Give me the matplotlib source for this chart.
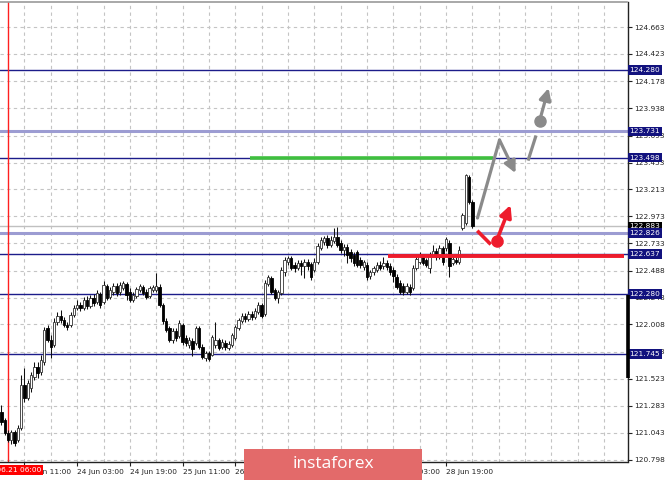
import matplotlib
matplotlib.use("Agg")
import matplotlib.pyplot as plt
import matplotlib.transforms as mtransforms
from matplotlib.patches import Rectangle

# ---------------- data ----------------
opens = [121.225, 121.154, 121.038, 120.975, 121.047, 120.975, 121.082, 121.467, 121.350, 121.440,
         121.538, 121.627, 121.583, 121.672, 121.975, 121.868, 121.824, 122.029, 122.083, 122.047,
         122.002, 122.002, 122.092, 122.154, 122.181, 122.154, 122.225, 122.172, 122.243, 122.208,
         122.279, 122.208, 122.350, 122.252, 122.297, 122.350, 122.297, 122.333, 122.368, 122.297,
         122.225, 122.261, 122.315, 122.342, 122.297, 122.261, 122.315, 122.315, 122.342, 122.181,
         122.038, 121.975, 121.868, 121.949, 121.904, 122.002, 121.886, 121.824, 121.859, 121.842,
         121.975, 121.806, 121.708, 121.752, 121.734, 121.824, 121.868, 121.806, 121.842, 121.797,
         121.824, 121.886, 121.975, 122.038, 122.083, 122.056, 122.100, 122.074, 122.118, 122.181,
         122.100, 122.368, 122.422, 122.315, 122.243, 122.288, 122.475, 122.565, 122.600, 122.538,
         122.511, 122.556, 122.529, 122.565, 122.547, 122.493, 122.565, 122.690, 122.743, 122.779,
         122.716, 122.752, 122.788, 122.734, 122.672, 122.699, 122.654, 122.627, 122.654, 122.583,
         122.520, 122.538, 122.440, 122.475, 122.493, 122.538, 122.529, 122.556, 122.529, 122.493,
         122.431, 122.377, 122.350, 122.297, 122.342, 122.333, 122.511, 122.565, 122.609, 122.583,
         122.511, 122.627, 122.663, 122.609, 122.690, 122.690, 122.734, 122.556, 122.583, 122.565,
         122.868, 122.913, 123.324, 123.100]
highs = [121.288, 121.172, 121.065, 121.065, 121.065, 121.109, 121.556, 121.618, 121.511, 121.583,
         121.672, 121.672, 121.734, 121.984, 122.002, 121.913, 122.065, 122.118, 122.136, 122.074,
         122.029, 122.118, 122.181, 122.225, 122.208, 122.252, 122.261, 122.270, 122.279, 122.315,
         122.297, 122.395, 122.368, 122.342, 122.377, 122.377, 122.386, 122.395, 122.386, 122.333,
         122.297, 122.342, 122.368, 122.359, 122.324, 122.350, 122.359, 122.466, 122.368, 122.199,
         122.065, 121.993, 121.975, 121.975, 122.047, 122.020, 121.913, 121.895, 121.886, 121.993,
         121.993, 121.833, 121.770, 121.770, 121.913, 122.029, 121.886, 121.877, 121.868, 121.859,
         121.931, 122.002, 122.065, 122.109, 122.109, 122.127, 122.127, 122.154, 122.208, 122.199,
         122.404, 122.449, 122.440, 122.333, 122.315, 122.520, 122.609, 122.618, 122.618, 122.565,
         122.583, 122.583, 122.591, 122.591, 122.565, 122.600, 122.734, 122.788, 122.797, 122.806,
         122.797, 122.868, 122.877, 122.761, 122.725, 122.725, 122.681, 122.654, 122.672, 122.609,
         122.583, 122.565, 122.493, 122.529, 122.565, 122.574, 122.609, 122.583, 122.556, 122.520,
         122.458, 122.404, 122.377, 122.377, 122.368, 122.538, 122.618, 122.654, 122.636, 122.600,
         122.654, 122.716, 122.690, 122.716, 122.708, 122.788, 122.761, 122.618, 122.609, 122.708,
         123.002, 123.350, 123.341, 123.118]
lows = [121.109, 121.020, 120.958, 120.940, 120.922, 120.958, 121.065, 121.315, 121.333, 121.404,
        121.511, 121.529, 121.556, 121.645, 121.850, 121.708, 121.806, 122.002, 122.020, 121.984,
        121.958, 121.984, 122.074, 122.136, 122.127, 122.136, 122.145, 122.154, 122.172, 122.190,
        122.154, 122.190, 122.225, 122.234, 122.270, 122.261, 122.270, 122.315, 122.225, 122.208,
        122.208, 122.243, 122.297, 122.270, 122.234, 122.243, 122.297, 122.297, 122.163, 122.011,
        121.940, 121.850, 121.842, 121.859, 121.886, 121.824, 121.815, 121.797, 121.725, 121.824,
        121.788, 121.699, 121.681, 121.681, 121.725, 121.797, 121.779, 121.788, 121.779, 121.779,
        121.806, 121.868, 121.958, 122.020, 122.029, 122.038, 122.047, 122.056, 122.100, 122.065,
        122.083, 122.350, 122.279, 122.225, 122.199, 122.270, 122.440, 122.538, 122.493, 122.475,
        122.493, 122.449, 122.422, 122.493, 122.404, 122.475, 122.547, 122.672, 122.716, 122.690,
        122.699, 122.734, 122.699, 122.645, 122.618, 122.556, 122.565, 122.529, 122.520, 122.511,
        122.493, 122.404, 122.413, 122.449, 122.475, 122.493, 122.502, 122.493, 122.449, 122.386,
        122.324, 122.279, 122.270, 122.279, 122.270, 122.315, 122.493, 122.547, 122.538, 122.520,
        122.466, 122.609, 122.583, 122.591, 122.538, 122.663, 122.431, 122.538, 122.547, 122.547,
        122.850, 122.895, 123.082, 122.868]
closes = [121.136, 121.038, 120.975, 121.047, 120.949, 121.082, 121.467, 121.350, 121.484, 121.556,
          121.627, 121.574, 121.690, 121.958, 121.868, 121.806, 122.029, 122.083, 122.047, 122.002,
          121.984, 122.092, 122.154, 122.181, 122.154, 122.225, 122.172, 122.243, 122.199, 122.288,
          122.181, 122.359, 122.243, 122.315, 122.350, 122.288, 122.359, 122.377, 122.270, 122.225,
          122.270, 122.324, 122.350, 122.288, 122.252, 122.333, 122.342, 122.350, 122.181, 122.038,
          121.958, 121.868, 121.949, 121.886, 122.020, 121.850, 121.842, 121.868, 121.788, 121.975,
          121.806, 121.717, 121.752, 121.699, 121.895, 121.868, 121.797, 121.850, 121.806, 121.833,
          121.913, 121.984, 122.047, 122.083, 122.056, 122.100, 122.074, 122.127, 122.181, 122.083,
          122.377, 122.431, 122.297, 122.243, 122.297, 122.493, 122.583, 122.600, 122.511, 122.511,
          122.556, 122.529, 122.565, 122.529, 122.431, 122.565, 122.708, 122.761, 122.779, 122.716,
          122.761, 122.788, 122.716, 122.672, 122.699, 122.627, 122.600, 122.556, 122.538, 122.538,
          122.565, 122.431, 122.475, 122.511, 122.538, 122.511, 122.556, 122.520, 122.475, 122.440,
          122.342, 122.297, 122.297, 122.350, 122.297, 122.511, 122.591, 122.627, 122.556, 122.538,
          122.627, 122.663, 122.609, 122.690, 122.565, 122.770, 122.529, 122.591, 122.565, 122.672,
          122.984, 123.341, 123.100, 122.883]

y_ticks = [124.663, 124.423, 124.178, 123.938, 123.693, 123.453, 123.213, 122.973, 122.733,
           122.488, 122.248, 122.008, 121.763, 121.523, 121.283, 121.043, 120.798]
x_tick_bars = [7, 23, 39, 55, 71, 87, 103, 119, 135]
x_tick_labels = ["21 Jun 11:00", "24 Jun 03:00", "24 Jun 19:00", "25 Jun 11:00", "26 Jun 03:00",
                 "26 Jun 19:00", "27 Jun 11:00", "28 Jun 03:00", "28 Jun 19:00"]
vline_bar = 2
vline_label = "2019.06.21 06:00"

navy_levels = [124.280, 123.498, 122.637, 122.280, 121.745]
lavender_levels = [123.731, 122.826]
bid_level = 122.883

green_level = 123.498
green_span = [75.5, 149.4]
red_level = 122.620
red_span = [117.5, 188.9]

gray_path_x = [144.55, 151.24, 156.10]
gray_path_y = [122.958, 123.654, 123.359]
gray_seg_x = [160.05, 162.18]
gray_seg_y = [123.484, 123.681]
gray_dot = (163.40, 123.824)
gray_arrow_end = (166.13, 124.118)

red_seg_x = [144.86, 148.20]
red_seg_y = [122.833, 122.734]
red_dot = (150.33, 122.752)
red_arrow_end = (154.58, 123.074)

# ---------------- figure ----------------
W, H = 665, 480
fig = plt.figure(figsize=(W / 100, H / 100), dpi=100)
ax_left, ax_right, ax_top, ax_bot = 0, 627.5, 1.7, 462
ax = fig.add_axes([ax_left / W, (H - ax_bot) / H, (ax_right - ax_left) / W, (ax_bot - ax_top) / H])
ax.set_xlim(-0.43, 190.1)
ax.set_ylim(120.780, 124.889)

grid_kw = dict(color="#c4c4c4", lw=0.8, ls=(0, (3, 3)), zorder=0)
for yv in y_ticks:
    ax.axhline(yv, **grid_kw)
for xv in range(7, 191, 8):
    ax.axvline(xv, **grid_kw)

# level lines
for lv in navy_levels:
    ax.axhline(lv, color="#1c1c8a", lw=1.0, zorder=2)
for lv in lavender_levels:
    ax.axhline(lv, color="#9c9cd2", lw=2.2, zorder=2)
ax.axhline(bid_level, color="#c0c0c0", lw=1.0, zorder=2)
ax.axvline(vline_bar, color="#ff2020", lw=1.0, zorder=2)

# candles
bw = 0.72
for i, (o, h, l, c) in enumerate(zip(opens, highs, lows, closes)):
    ax.vlines(i, l, h, color="#111111", lw=0.75, zorder=3)
    bull = c >= o
    lo, hi = (o, c) if bull else (c, o)
    ax.add_patch(Rectangle((i - bw / 2, lo), bw, max(hi - lo, 0.002),
                           facecolor="white" if bull else "black",
                           edgecolor="#333333" if bull else "black", lw=0.6, zorder=4))

# green / red horizontal segments
ax.plot(green_span, [green_level] * 2, color="#3fbf3f", lw=2.6, zorder=5, solid_capstyle="butt")
ax.plot(red_span, [red_level] * 2, color="#ee1c2c", lw=2.8, zorder=5, solid_capstyle="butt")

# forecast arrows
gcol = "#8a8a8a"
rcol = "#ee1c2c"
ax.plot(gray_path_x[:2], gray_path_y[:2], color=gcol, lw=2.3, zorder=6, solid_capstyle="round")
ax.annotate("", xy=(gray_path_x[2], gray_path_y[2]), xytext=(gray_path_x[1], gray_path_y[1]),
            arrowprops=dict(arrowstyle="-|>,head_length=0.7,head_width=0.35", color=gcol, lw=2.3,
                            shrinkA=0, shrinkB=0), zorder=6)
ax.plot(gray_seg_x, gray_seg_y, color=gcol, lw=2.3, zorder=6)
ax.plot([gray_dot[0]], [gray_dot[1]], "o", color=gcol, ms=8, zorder=6)
ax.annotate("", xy=gray_arrow_end, xytext=gray_dot,
            arrowprops=dict(arrowstyle="-|>,head_length=0.7,head_width=0.35", color=gcol, lw=2.3,
                            shrinkA=0, shrinkB=0), zorder=6)
ax.plot(red_seg_x, red_seg_y, color=rcol, lw=2.6, zorder=6)
ax.plot([red_dot[0]], [red_dot[1]], "o", color=rcol, ms=8, zorder=6)
ax.annotate("", xy=red_arrow_end, xytext=red_dot,
            arrowprops=dict(arrowstyle="-|>,head_length=0.7,head_width=0.35", color=rcol, lw=2.6,
                            shrinkA=0, shrinkB=0), zorder=6)

# spines
ax.spines["left"].set_visible(False)
ax.spines["top"].set_color("#9a9a9a")
ax.spines["top"].set_linewidth(1.2)
for s in ("right", "bottom"):
    ax.spines[s].set_color("#222222")
    ax.spines[s].set_linewidth(1.0)

fs = 5.3
ax.yaxis.tick_right()
ax.set_yticks(y_ticks)
ax.set_yticklabels([f"{v:.3f}" for v in y_ticks])
ax.tick_params(axis="y", direction="out", length=3, pad=2, labelsize=fs, colors="#222222")
ax.set_xticks(x_tick_bars)
ax.set_xticklabels(x_tick_labels)
ax.tick_params(axis="x", direction="out", length=3, pad=2, labelsize=fs, colors="#222222")
for lab in ax.get_xticklabels():
    lab.set_ha("left")

# price label boxes on the right axis
btrans = mtransforms.blended_transform_factory(ax.transAxes, ax.transData)
for lv in navy_levels + lavender_levels:
    ax.text(1.003, lv, f"{lv:.3f}", transform=btrans, ha="left", va="center", fontsize=fs,
            color="white", zorder=10, clip_on=False,
            bbox=dict(boxstyle="square,pad=0.25", fc="#12127e", ec="none"))
ax.text(1.003, bid_level, f"{bid_level:.3f}", transform=btrans, ha="left", va="center", fontsize=fs,
        color="white", zorder=9, clip_on=False,
        bbox=dict(boxstyle="square,pad=0.25", fc="black", ec="none"))

# thick marker on the price axis
ax.plot([1.0, 1.0], [121.529, 122.270], transform=btrans, color="black", lw=2.6,
        clip_on=False, zorder=11, solid_capstyle="butt")

# red time label for the vertical line
xtrans = mtransforms.blended_transform_factory(ax.transData, ax.transAxes)
ax.text(vline_bar, -0.018, vline_label, transform=xtrans, ha="center", va="center", fontsize=fs,
        color="white", clip_on=False, zorder=12,
        bbox=dict(boxstyle="square,pad=0.3", fc="#ff0000", ec="none"))

# watermark
fig.patches.append(Rectangle((244 / W, 0), 178 / W, 31 / H, transform=fig.transFigure,
                             facecolor="#e36a6a", edgecolor="none", zorder=20))
fig.text(333 / W, (H - 464) / H, "instaforex", ha="center", va="center", fontsize=12.5,
         color="white", family=["Open Sans", "DejaVu Sans"], zorder=21)

fig.savefig("out.png", dpi=100, facecolor="white")
